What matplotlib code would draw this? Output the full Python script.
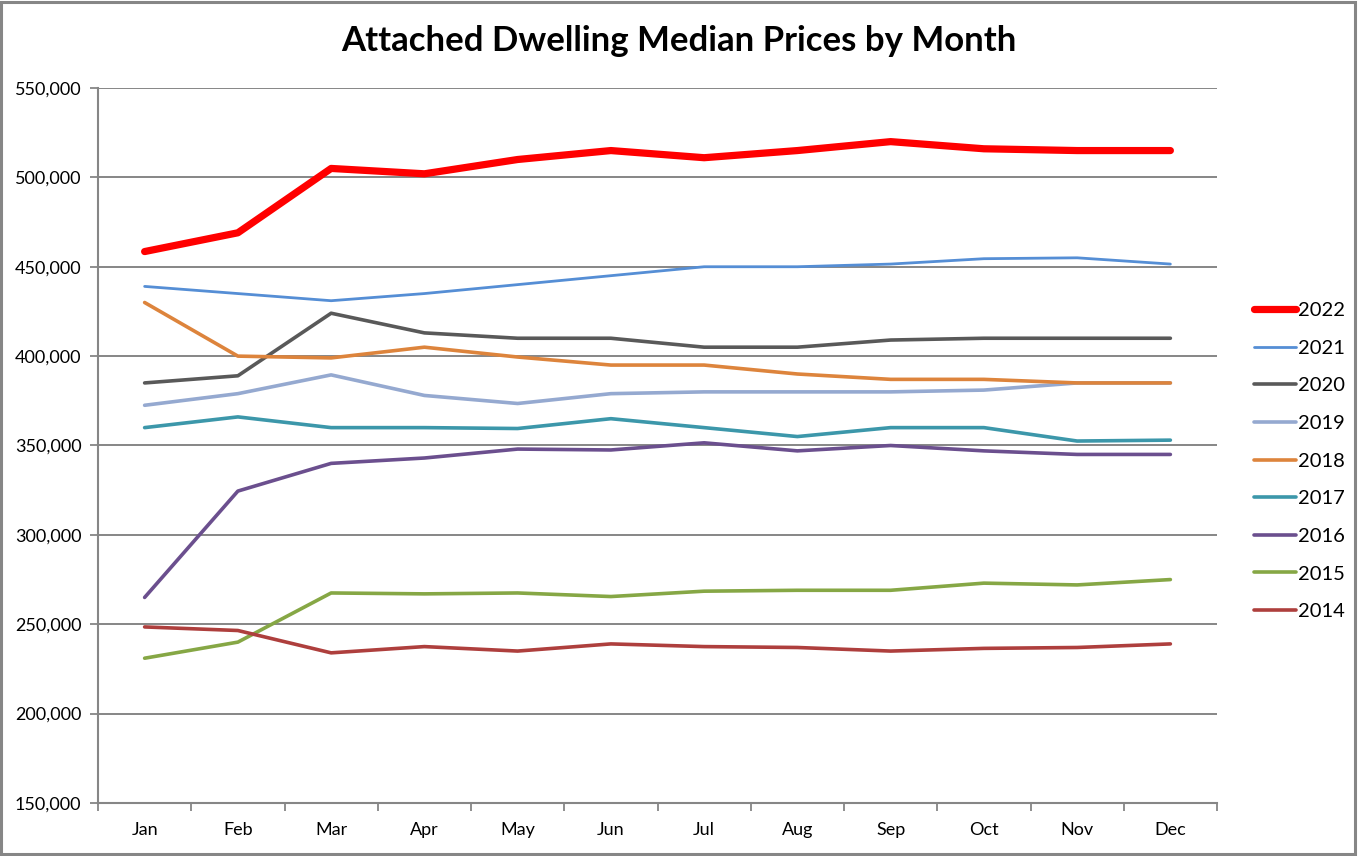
import matplotlib.pyplot as plt
import matplotlib.patches as patches
import numpy as np

plt.rcParams['font.family'] = ['Lato', 'DejaVu Sans']

months = ['Jan', 'Feb', 'Mar', 'Apr', 'May', 'Jun', 'Jul', 'Aug', 'Sep', 'Oct', 'Nov', 'Dec']

p2022 = [458500, 469000, 505000, 502000, 510000, 515000, 511000, 515000, 520000, 516000, 515000, 515000]
p2021 = [439000, 435000, 431000, 435000, 440000, 445000, 450000, 450000, 451500, 454500, 455000, 451500]
p2020 = [385000, 389000, 424000, 413000, 410000, 410000, 405000, 405000, 409000, 410000, 410000, 410000]
p2019 = [372500, 379000, 389500, 378000, 373500, 379000, 380000, 380000, 380000, 381000, 385000, 385000]
p2018 = [430000, 400000, 399000, 405000, 399500, 395000, 395000, 390000, 387000, 387000, 385000, 385000]
p2017 = [360000, 366000, 360000, 360000, 359500, 365000, 360000, 355000, 360000, 360000, 352500, 353000]
p2016 = [265000, 324500, 340000, 343000, 348000, 347500, 351500, 347000, 350000, 347000, 345000, 345000]
p2015 = [231000, 240000, 267500, 267000, 267500, 265500, 268500, 269000, 269000, 273000, 272000, 275000]
p2014 = [248500, 246500, 234000, 237500, 235000, 239000, 237500, 237000, 235000, 236500, 237000, 239000]

series = [
    ('2022', p2022, '#FF0000', 5.2),
    ('2021', p2021, '#558ED5', 2.0),
    ('2020', p2020, '#595959', 2.6),
    ('2019', p2019, '#95A9D0', 2.6),
    ('2018', p2018, '#DD843C', 2.6),
    ('2017', p2017, '#3C97AA', 2.6),
    ('2016', p2016, '#6B4F8E', 2.6),
    ('2015', p2015, '#86A745', 2.6),
    ('2014', p2014, '#AE3F3D', 2.6),
]

grid_color = '#868686'

fig = plt.figure(figsize=(13.58, 8.56), dpi=100)
ax = fig.add_axes([98 / 1358, 53 / 856, (1217 - 98) / 1358, (803 - 88) / 856])

x = np.arange(len(months))
for label, vals, color, lw in series:
    ax.plot(x, vals, color=color, linewidth=lw, label=label,
            solid_capstyle='round', solid_joinstyle='round')

ax.set_xlim(-0.5, len(months) - 0.5)
ax.set_ylim(150000, 550000)
ax.set_yticks(range(150000, 550001, 50000))
ax.set_yticklabels([f'{v:,}' for v in range(150000, 550001, 50000)])
ax.yaxis.grid(True, color=grid_color, linewidth=1.4)
ax.set_axisbelow(True)

# category boundaries get the tick marks, centres get the labels
ax.set_xticks(np.arange(-0.5, len(months), 1.0))
ax.set_xticklabels([])
ax.set_xticks(x, minor=True)
ax.set_xticklabels(months, minor=True)
ax.tick_params(axis='x', which='major', length=6, width=1.3, color=grid_color, direction='out')
ax.tick_params(axis='x', which='minor', length=0, pad=14, labelsize=13)
ax.tick_params(axis='y', length=6, width=1.3, color=grid_color, direction='out', labelsize=13, pad=6)

for side in ['top', 'right']:
    ax.spines[side].set_visible(False)
for side in ['left', 'bottom']:
    ax.spines[side].set_color(grid_color)
    ax.spines[side].set_linewidth(1.5)

fig.text(0.5, 0.952, 'Attached Dwelling Median Prices by Month', ha='center', va='center',
         fontsize=25, fontweight='bold')

leg = ax.legend(loc='upper left', bbox_to_anchor=(1.026, 0.712), frameon=False,
                fontsize=14.5, handlelength=2.1, handletextpad=0.1, labelspacing=1.02,
                borderaxespad=0)

# outer frame
fig.patches.append(patches.Rectangle((0.001, 0.002), 0.997, 0.996, transform=fig.transFigure,
                                     fill=False, edgecolor=grid_color, linewidth=2.2))

plt.savefig('out.png', dpi=100)
